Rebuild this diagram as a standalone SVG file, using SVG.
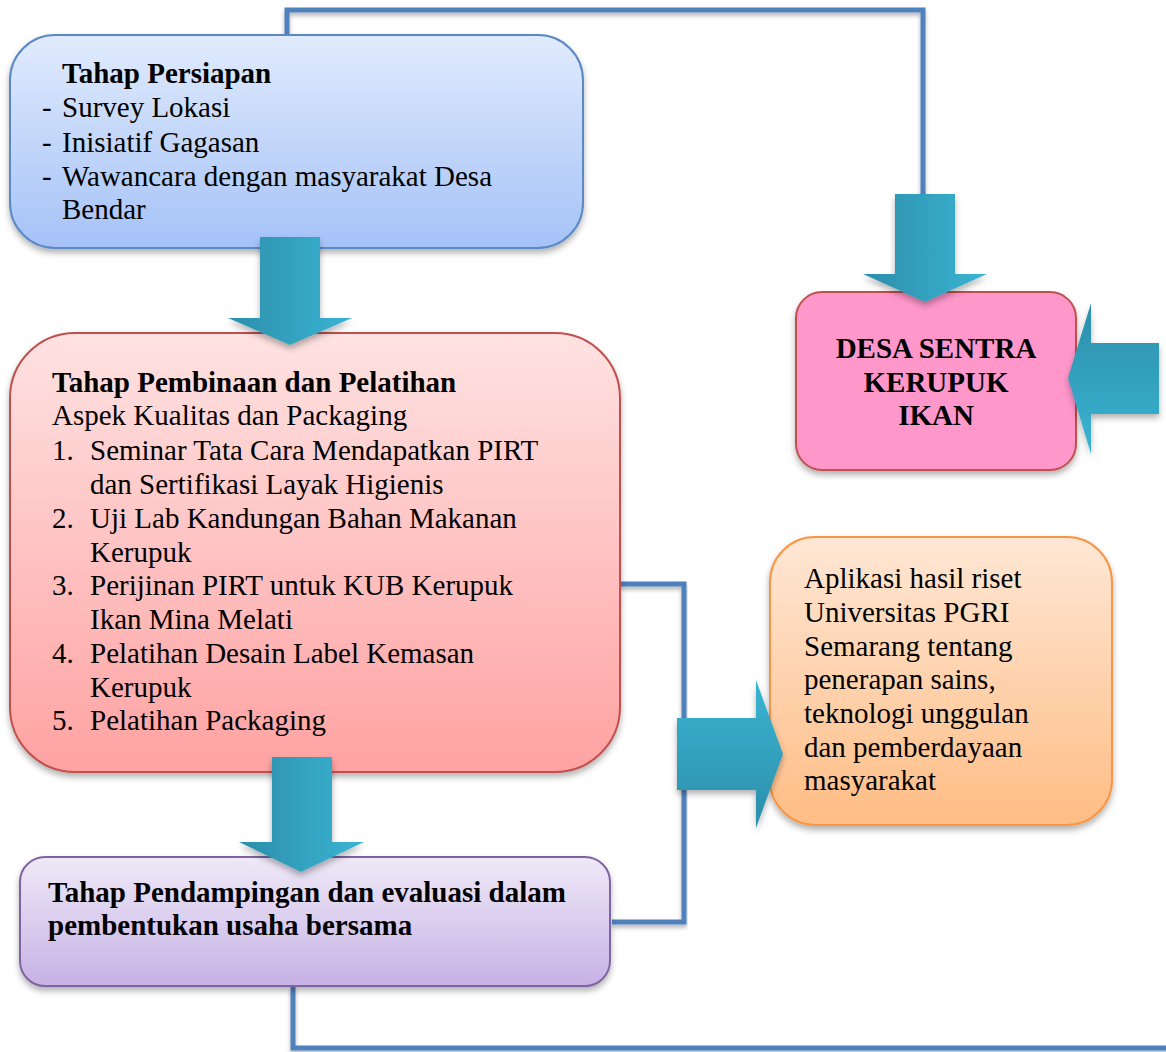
<svg xmlns="http://www.w3.org/2000/svg" width="1166" height="1052" viewBox="0 0 1166 1052">
<style>
  .t { font-family: "Liberation Serif", "Times New Roman", serif; font-size: 29px; fill: #000; }
  .b { font-weight: bold; }
  .line { fill: none; stroke: #4F81BD; stroke-width: 5; stroke-linejoin: miter; filter: url(#lsh); }
</style>
<defs>
  <filter id="sh" x="-10%" y="-10%" width="120%" height="125%">
    <feDropShadow dx="0" dy="4" stdDeviation="3" flood-color="#000" flood-opacity="0.3"/>
  </filter>
  <filter id="lsh" x="-5%" y="-5%" width="110%" height="110%">
    <feDropShadow dx="0" dy="3" stdDeviation="2" flood-color="#000" flood-opacity="0.3"/>
  </filter>
  <linearGradient id="gBlue" x1="0" y1="0" x2="0" y2="1">
    <stop offset="0" stop-color="#E1EBFD"/><stop offset="1" stop-color="#A5C2F7"/>
  </linearGradient>
  <linearGradient id="gRed" x1="0" y1="0" x2="0" y2="1">
    <stop offset="0" stop-color="#FFE2E2"/><stop offset="1" stop-color="#FFA2A2"/>
  </linearGradient>
  <linearGradient id="gPurple" x1="0" y1="0" x2="0" y2="1">
    <stop offset="0" stop-color="#EFE9F8"/><stop offset="1" stop-color="#C6B2E5"/>
  </linearGradient>
  <linearGradient id="gOrange" x1="0" y1="0" x2="0" y2="1">
    <stop offset="0" stop-color="#FFE7D5"/><stop offset="1" stop-color="#FFBD85"/>
  </linearGradient>
  <linearGradient id="gArrH" x1="0" y1="0" x2="1" y2="0">
    <stop offset="0" stop-color="#2C8EAA"/><stop offset="1" stop-color="#3AB4D3"/>
  </linearGradient>
  <linearGradient id="gArrUp" x1="0" y1="0" x2="0" y2="1">
    <stop offset="0" stop-color="#2C8EAA"/><stop offset="1" stop-color="#3AB4D3"/>
  </linearGradient>
  <linearGradient id="gArrDn" x1="0" y1="0" x2="0" y2="1">
    <stop offset="0" stop-color="#3AB4D3"/><stop offset="1" stop-color="#2C8EAA"/>
  </linearGradient>
</defs>
<rect width="1166" height="1052" fill="#FFFFFF"/>

<g id="connectors">
  <polyline class="line" points="287,36 287,10 923,10 923,196"/>
  <polyline class="line" points="612,584 684,584 684,922 612,922"/>
  <polyline class="line" points="293,986 293,1048 1170,1048"/>
  <polyline class="line" points="1155,381 1170,381"/>
</g>

<g id="node-persiapan">
  <rect x="10" y="35" width="573" height="213" rx="45" ry="45" fill="url(#gBlue)" stroke="#5A89C6" stroke-width="2" filter="url(#sh)"/>
  <text class="t b" x="62" y="83">Tahap Persiapan</text>
  <text class="t" x="42" y="117">-</text><text class="t" x="62" y="117">Survey Lokasi</text>
  <text class="t" x="42" y="152">-</text><text class="t" x="62" y="152">Inisiatif Gagasan</text>
  <text class="t" x="42" y="186">-</text><text class="t" x="62" y="186">Wawancara dengan masyarakat Desa</text>
  <text class="t" x="62" y="219">Bendar</text>
</g>

<g id="node-pembinaan">
  <rect x="10" y="333" width="610" height="439" rx="65" ry="65" fill="url(#gRed)" stroke="#C0504D" stroke-width="2" filter="url(#sh)"/>
  <text class="t b" x="52" y="392">Tahap Pembinaan dan Pelatihan</text>
  <text class="t" x="52" y="425">Aspek Kualitas dan Packaging</text>
  <text class="t" x="52" y="460">1.</text><text class="t" x="90" y="460">Seminar Tata Cara Mendapatkan PIRT</text>
  <text class="t" x="90" y="494">dan Sertifikasi Layak Higienis</text>
  <text class="t" x="52" y="528">2.</text><text class="t" x="90" y="528">Uji Lab Kandungan Bahan Makanan</text>
  <text class="t" x="90" y="562">Kerupuk</text>
  <text class="t" x="52" y="595">3.</text><text class="t" x="90" y="595">Perijinan PIRT untuk KUB Kerupuk</text>
  <text class="t" x="90" y="629">Ikan Mina Melati</text>
  <text class="t" x="52" y="663">4.</text><text class="t" x="90" y="663">Pelatihan Desain Label Kemasan</text>
  <text class="t" x="90" y="697">Kerupuk</text>
  <text class="t" x="52" y="730">5.</text><text class="t" x="90" y="730">Pelatihan Packaging</text>
</g>

<g id="node-pendampingan">
  <rect x="20" y="857" width="590" height="129" rx="25" ry="25" fill="url(#gPurple)" stroke="#8064A2" stroke-width="2" filter="url(#sh)"/>
  <text class="t b" x="48" y="902">Tahap Pendampingan dan evaluasi dalam</text>
  <text class="t b" x="48" y="935">pembentukan usaha bersama</text>
</g>

<g id="node-desa">
  <rect x="796" y="292" width="280" height="178" rx="26" ry="26" fill="#FF97CB" stroke="#C0504D" stroke-width="2" filter="url(#sh)"/>
  <text class="t b" x="936" y="358" text-anchor="middle">DESA SENTRA</text>
  <text class="t b" x="936" y="392" text-anchor="middle">KERUPUK</text>
  <text class="t b" x="936" y="425" text-anchor="middle">IKAN</text>
</g>

<g id="node-aplikasi">
  <rect x="770" y="537" width="342" height="288" rx="45" ry="45" fill="url(#gOrange)" stroke="#F79646" stroke-width="2" filter="url(#sh)"/>
  <text class="t" x="804" y="588">Aplikasi hasil riset</text>
  <text class="t" x="804" y="622">Universitas PGRI</text>
  <text class="t" x="804" y="656">Semarang tentang</text>
  <text class="t" x="804" y="689">penerapan sains,</text>
  <text class="t" x="804" y="723">teknologi unggulan</text>
  <text class="t" x="804" y="757">dan pemberdayaan</text>
  <text class="t" x="804" y="790">masyarakat</text>
</g>

<g id="arrows">
  <polygon points="260,237 320,237 320,318 352,318 290,345 228,318 260,318" fill="url(#gArrH)" filter="url(#sh)"/>
  <polygon points="272,757 332,757 332,842 364,842 301,872 239,842 272,842" fill="url(#gArrH)" filter="url(#sh)"/>
  <polygon points="895,194 955,194 955,274 987,274 925,302 863,274 895,274" fill="url(#gArrH)" filter="url(#sh)"/>
  <polygon points="1159,343 1159,414 1091,414 1091,454 1068,378 1091,303 1091,343" fill="url(#gArrUp)" filter="url(#sh)"/>
  <polygon points="677,718 756,718 756,680 783,754 756,828 756,790 677,790" fill="url(#gArrDn)" filter="url(#sh)"/>
</g>
</svg>
